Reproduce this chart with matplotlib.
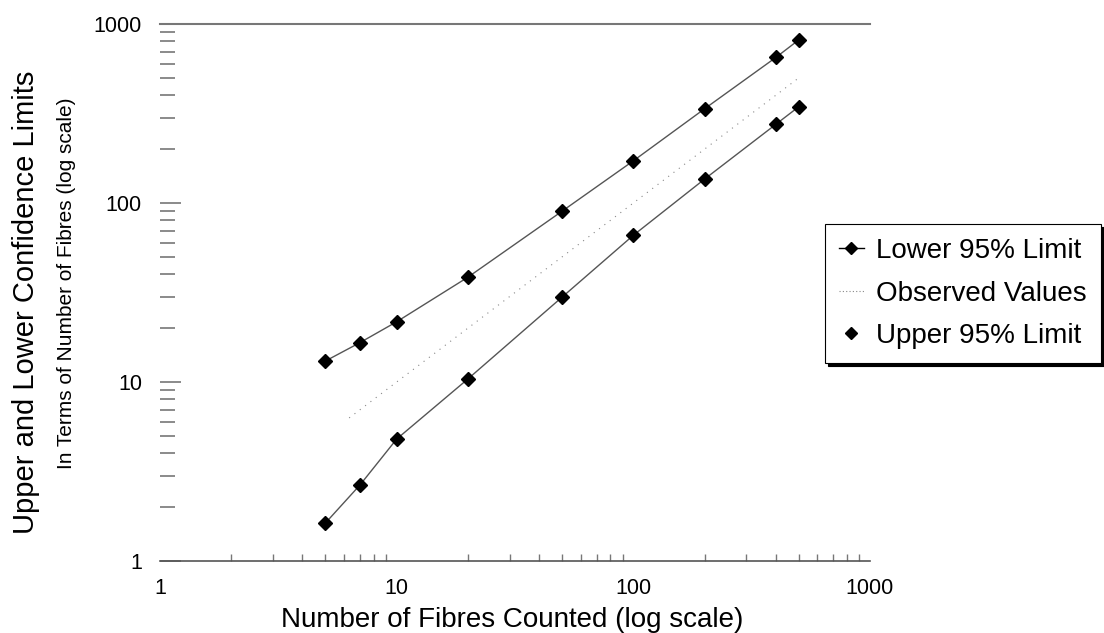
import matplotlib
matplotlib.use("Agg")
import matplotlib.pyplot as plt
import matplotlib.ticker as mticker
from matplotlib.lines import Line2D

plt.rcParams['font.family'] = ['Liberation Sans', 'DejaVu Sans']

# Data
fibres_counted = [5, 7, 10, 20, 50, 100, 200, 400, 500]
upper_limit = [13.1, 16.6, 21.7, 38.5, 90.0, 172.0, 336.0, 650.0, 815.0]
lower_limit = [1.63, 2.66, 4.8, 10.4, 29.8, 66.0, 136.0, 275.0, 345.0]
observed_x = [6.3, 10, 20, 50, 100, 200, 400, 500]
observed_y = [6.3, 10, 20, 50, 100, 200, 400, 500]

x_ticks = [1, 10, 100, 1000]
y_ticks = [1, 10, 100, 1000]
legend_labels = ["Lower 95% Limit", "Observed Values", "Upper 95% Limit"]

W, H = 1104, 633
fig = plt.figure(figsize=(W / 100, H / 100), dpi=100)
ax_l, ax_r, ax_t, ax_b = 160, 870, 24, 561
ax = fig.add_axes([ax_l / W, 1 - ax_b / H, (ax_r - ax_l) / W, (ax_b - ax_t) / H])

line_col = '#555555'
ax.plot(fibres_counted, upper_limit, color=line_col, lw=1.0, marker='D',
        markersize=7.5, markerfacecolor='black', markeredgecolor='black', zorder=3)
ax.plot(fibres_counted, lower_limit, color=line_col, lw=1.0, marker='D',
        markersize=7.5, markerfacecolor='black', markeredgecolor='black', zorder=3)
ax.plot(observed_x, observed_y, color='#888888', lw=0.8, linestyle=(0, (1, 5)), zorder=2)

ax.set_xscale('log')
ax.set_yscale('log')
ax.set_xlim(1, 1000)
ax.set_ylim(1, 1000)

fmt = mticker.FuncFormatter(lambda v, p: f"{v:g}")
ax.xaxis.set_major_locator(mticker.FixedLocator(x_ticks))
ax.yaxis.set_major_locator(mticker.FixedLocator(y_ticks))
ax.xaxis.set_major_formatter(fmt)
ax.yaxis.set_major_formatter(fmt)
ax.xaxis.set_minor_locator(mticker.LogLocator(base=10, subs=range(2, 10)))
ax.yaxis.set_minor_locator(mticker.LogLocator(base=10, subs=range(2, 10)))
ax.xaxis.set_minor_formatter(mticker.NullFormatter())
ax.yaxis.set_minor_formatter(mticker.NullFormatter())

ax.tick_params(axis='y', which='major', direction='in', length=15, width=1.2,
               color='#777777', labelsize=15.5, pad=13)
ax.tick_params(axis='y', which='minor', direction='in', length=11, width=1.2,
               color='#777777')
ax.tick_params(axis='x', which='major', direction='in', length=0,
               labelsize=15.5, pad=12)
ax.tick_params(axis='x', which='minor', direction='in', length=5, width=1.0,
               color='#777777')

for s in ['left', 'right']:
    ax.spines[s].set_visible(False)
ax.spines['top'].set_color('#777777')
ax.spines['top'].set_linewidth(1.5)
ax.spines['bottom'].set_color('#555555')
ax.spines['bottom'].set_linewidth(1.2)

fig.text(512 / W, 1 - 620 / H, "Number of Fibres Counted (log scale)",
         ha='center', va='center', fontsize=20)
fig.text(26 / W, 1 - 302 / H, "Upper and Lower Confidence Limits",
         rotation=90, ha='center', va='center', fontsize=21)
fig.text(67 / W, 1 - 283 / H, "In Terms of Number of Fibres (log scale)",
         rotation=90, ha='center', va='center', fontsize=15)

handles = [
    Line2D([], [], color='black', lw=1.0, marker='D', markersize=6.5,
           markerfacecolor='black'),
    Line2D([], [], color='#888888', lw=0.8, linestyle=(0, (1, 2))),
    Line2D([], [], color='none', marker='D', markersize=6.5,
           markerfacecolor='black', markeredgecolor='black'),
]
leg = fig.legend(handles, legend_labels, loc='upper left',
                 bbox_to_anchor=(825 / W, 1 - 224 / H), borderaxespad=0,
                 frameon=True, fontsize=20, handlelength=0.9,
                 handletextpad=0.45, labelspacing=0.6, borderpad=0.5,
                 fancybox=False, shadow={'color': 'black', 'alpha': 1.0},
                 edgecolor='black')
leg.get_frame().set_linewidth(0.8)

fig.savefig("out.png", dpi=100)
